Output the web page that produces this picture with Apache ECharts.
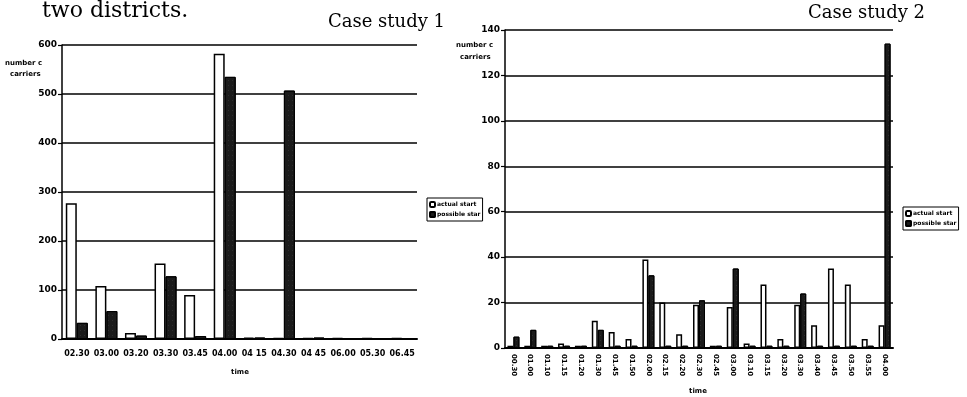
<!DOCTYPE html>
<html>
<head>
<meta charset="utf-8">
<script src="https://cdn.jsdelivr.net/npm/echarts@6/dist/echarts.min.js"></script>
<style>
html, body { margin: 0; padding: 0; background: #fff; }
#main { width: 967px; height: 397px; }
</style>
</head>
<body>
<div id="main"></div>
<script>
// case study 1
var times1 = ['02.30', '03.00', '03.20', '03.30', '03.45', '04.00', '04 15', '04.30', '04 45', '06.00', '05.30', '06.45'];
var actual1 = [277, 108, 12, 154, 90, 582, 3, 2, 2, 2, 2, 2];
var possible1 = [33, 57, 7, 128, 6, 535, 3, 507, 3, 2, 2, 2];
var ticks1 = [0, 100, 200, 300, 400, 500, 600];

// case study 2
var times2 = ['00.30', '01.00', '01.10', '01.15', '01.20', '01.30', '01.45', '01.50', '02.00', '02.15', '02.20', '02.30',
	'02.45', '03.00', '03.10', '03.15', '03.20', '03.30', '03.40', '03.45', '03.50', '03.55', '04.00'];
var actual2 = [1, 1, 1, 2, 1, 12, 7, 4, 39, 20, 6, 19, 1, 18, 2, 28, 4, 19, 10, 35, 28, 4, 10];
var possible2 = [5, 8, 1, 1, 1, 8, 1, 1, 32, 1, 1, 21, 1, 35, 1, 1, 1, 24, 1, 1, 1, 1, 134];
var ticks2 = [0, 20, 40, 60, 80, 100, 120, 140];

var seriesNames = ['actual start', 'possible start'];

var labelFont = 'DejaVu Sans';
var serifFont = 'DejaVu Serif';

var whiteBar = {
	color : '#fff',
	borderColor : '#000',
	borderWidth : 1.5
};
var darkBar = {
	color : '#1b1b1b',
	borderColor : '#000',
	borderWidth : 1,
	decal : {
		symbol : 'rect',
		symbolSize : 0.5,
		color : 'rgba(170,170,170,0.55)',
		dashArrayX : [ 1, 3 ],
		dashArrayY : [ 1, 4 ],
		rotation : 0
	}
};

var yAxisFor = function(ticks, gridIndex, fontSize) {
	return {
		type : 'value',
		gridIndex : gridIndex,
		min : ticks[0],
		max : ticks[ticks.length - 1],
		interval : ticks[1] - ticks[0],
		axisLine : { show : true, lineStyle : { color : '#000', width : 1.5 } },
		axisTick : { show : true, length : 4, lineStyle : { color : '#000', width : 1.2 } },
		axisLabel : { color : '#000', fontFamily : labelFont, fontWeight : 'bold', fontSize : fontSize, margin : 5 },
		splitLine : { show : true, lineStyle : { color : '#000', width : 1.5 } }
	};
};

var legendFor = function(left, top) {
	return {
		orient : 'vertical',
		left : left,
		top : top,
		data : seriesNames,
		borderColor : '#000',
		borderWidth : 1,
		padding : [ 3, 2, 3, 2 ],
		itemGap : 3,
		itemWidth : 5,
		itemHeight : 5,
		selectedMode : false,
		textStyle : {
			color : '#000',
			fontFamily : labelFont,
			fontWeight : 'bold',
			fontSize : 6,
			padding : [ 0, 0, 0, -3 ],
			width : 45,
			overflow : 'truncate',
			ellipsis : ''
		}
	};
};

var text = function(str, x, y, font, align) {
	return {
		type : 'text',
		x : x,
		y : y,
		style : {
			text : str,
			font : font,
			fill : '#000',
			align : align || 'left',
			verticalAlign : 'middle'
		}
	};
};

var chart = echarts.init(document.getElementById('main'));
var option = {
	animation : false,
	legend : [ legendFor(427, 198), legendFor(903, 207) ],
	grid : [
		{ left : 62, top : 45, width : 355, height : 294 },
		{ left : 505, top : 30, width : 388, height : 318 }
	],
	xAxis : [
		{
			type : 'category',
			gridIndex : 0,
			data : times1,
			axisLine : { lineStyle : { color : '#000', width : 2 } },
			axisTick : { length : 4, lineStyle : { color : '#000', width : 1.2 } },
			axisLabel : { color : '#000', fontFamily : labelFont, fontWeight : 'bold', fontSize : 8, margin : 11, interval : 0 }
		},
		{
			type : 'category',
			gridIndex : 1,
			data : times2,
			axisLine : { lineStyle : { color : '#000', width : 2 } },
			axisTick : { length : 4, lineStyle : { color : '#000', width : 1.2 } },
			axisLabel : { color : '#000', fontFamily : labelFont, fontWeight : 'bold', fontSize : 7, margin : 6, interval : 0, rotate : -90 }
		}
	],
	yAxis : [ yAxisFor(ticks1, 0, 9), yAxisFor(ticks2, 1, 9) ],
	series : [
		{ name : seriesNames[0], type : 'bar', xAxisIndex : 0, yAxisIndex : 0, data : actual1, barWidth : 11, barGap : '0%', itemStyle : whiteBar },
		{ name : seriesNames[1], type : 'bar', xAxisIndex : 0, yAxisIndex : 0, data : possible1, barWidth : 11, barGap : '0%', itemStyle : darkBar },
		{ name : seriesNames[0], type : 'bar', xAxisIndex : 1, yAxisIndex : 1, data : actual2, barWidth : 6, barGap : '0%', itemStyle : whiteBar },
		{ name : seriesNames[1], type : 'bar', xAxisIndex : 1, yAxisIndex : 1, data : possible2, barWidth : 6, barGap : '0%', itemStyle : darkBar }
	],
	graphic : [
		text('two districts.', 42, 11, '22px "' + serifFont + '"'),
		text('Case study 1', 328, 22, '18px "' + serifFont + '"'),
		text('Case study 2', 808, 13, '18px "' + serifFont + '"'),
		text('number c', 5, 63, 'bold 7px "' + labelFont + '"'),
		text('carriers', 10, 74, 'bold 7px "' + labelFont + '"'),
		text('number c', 456, 45, 'bold 7px "' + labelFont + '"'),
		text('carriers', 460, 57, 'bold 7px "' + labelFont + '"'),
		text('time', 240, 372, 'bold 7px "' + labelFont + '"', 'center'),
		text('time', 698, 391, 'bold 7px "' + labelFont + '"', 'center')
	]
};
chart.setOption(option);
</script>
</body>
</html>
